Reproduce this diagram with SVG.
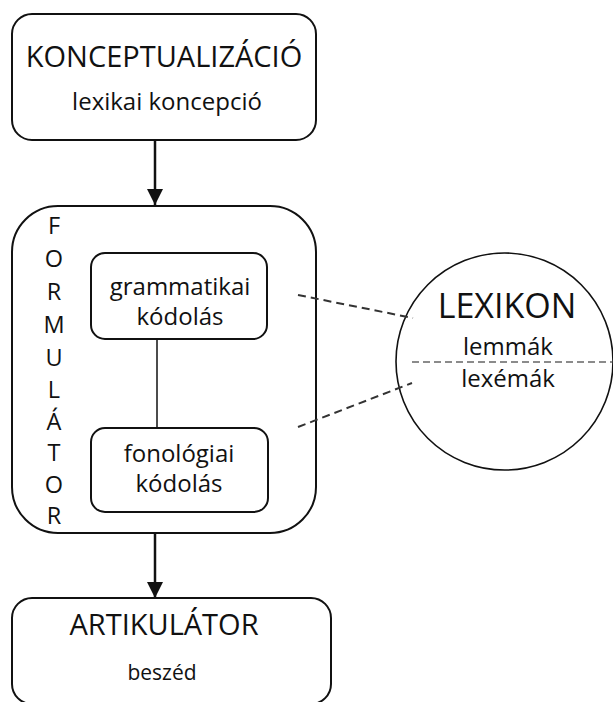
<svg xmlns="http://www.w3.org/2000/svg" width="613" height="702" viewBox="0 0 613 702">
  <style>
    .box { fill: #fff; stroke: #111; stroke-width: 2; }
    .t { font-family: "Open Sans", "Noto Sans", sans-serif; fill: #111; text-anchor: middle; }
    .big { font-size: 29px; }
    .lex { font-size: 34px; }
    .mid { font-size: 24px; }
    .small { font-size: 21px; }
    .vert { font-size: 23.5px; }
    .flow { stroke: #111; stroke-width: 2.5; fill: none; }
    .dash { stroke: #333; stroke-width: 2; stroke-dasharray: 8 5; fill: none; }
    .split { stroke: #666; stroke-width: 1.6; stroke-dasharray: 7 4; fill: none; }
  </style>
  <defs>
    <marker id="arrow" viewBox="0 0 16 16" refX="16" refY="8" markerWidth="16" markerHeight="16" markerUnits="userSpaceOnUse" orient="auto">
      <path d="M0,0 L16,8 L0,16 Z" fill="#111"/>
    </marker>
  </defs>

  <rect width="613" height="702" fill="#fff"/>

  <!-- conceptualizer -->
  <g id="konceptualizacio">
    <rect class="box" x="12" y="14" width="304" height="126" rx="20"/>
    <text class="t big" x="164" y="67">KONCEPTUALIZÁCIÓ</text>
    <text class="t mid" x="167" y="110">lexikai koncepció</text>
  </g>

  <!-- formulator -->
  <g id="formulator">
    <rect class="box" x="12" y="206" width="304" height="327" rx="46"/>
    <g class="t vert">
      <text x="54" y="234">F</text>
      <text x="54" y="267">O</text>
      <text x="54" y="300">R</text>
      <text x="54" y="333">M</text>
      <text x="54" y="366">U</text>
      <text x="54" y="398">L</text>
      <text x="54" y="430">Á</text>
      <text x="54" y="461">T</text>
      <text x="54" y="493">O</text>
      <text x="54" y="524">R</text>
    </g>
  </g>

  <g id="grammatikai">
    <rect class="box" x="91" y="253" width="176" height="86" rx="14"/>
    <text class="t mid" x="180" y="295">grammatikai</text>
    <text class="t mid" x="180" y="325">kódolás</text>
  </g>

  <g id="fonologiai">
    <rect class="box" x="91" y="428" width="177" height="84" rx="14"/>
    <text class="t mid" x="179" y="462">fonológiai</text>
    <text class="t mid" x="179" y="492">kódolás</text>
  </g>

  <!-- articulator -->
  <g id="artikulator">
    <rect class="box" x="12" y="598" width="319" height="106" rx="20"/>
    <text class="t big" x="164" y="635">ARTIKULÁTOR</text>
    <text class="t small" x="162" y="680">beszéd</text>
  </g>

  <!-- lexicon -->
  <g id="lexikon">
    <circle fill="#fff" stroke="#111" stroke-width="1.6" cx="504.5" cy="361.5" r="108.5"/>
    <line class="split" x1="412" y1="362" x2="612" y2="362"/>
    <text class="t lex" x="507" y="318">LEXIKON</text>
    <text class="t mid" x="508" y="355">lemmák</text>
    <text class="t mid" x="508" y="387">lexémák</text>
  </g>

  <!-- connectors, drawn over the shapes -->
  <g id="connectors">
    <line class="flow" x1="155" y1="141" x2="155" y2="205" marker-end="url(#arrow)"/>
    <line class="flow" x1="155" y1="533" x2="155" y2="598" marker-end="url(#arrow)"/>
    <line stroke="#111" stroke-width="1.5" x1="157" y1="339" x2="157" y2="428"/>
    <line class="dash" x1="298" y1="295" x2="413" y2="318"/>
    <line class="dash" x1="298" y1="427" x2="412" y2="383"/>
  </g>
</svg>
